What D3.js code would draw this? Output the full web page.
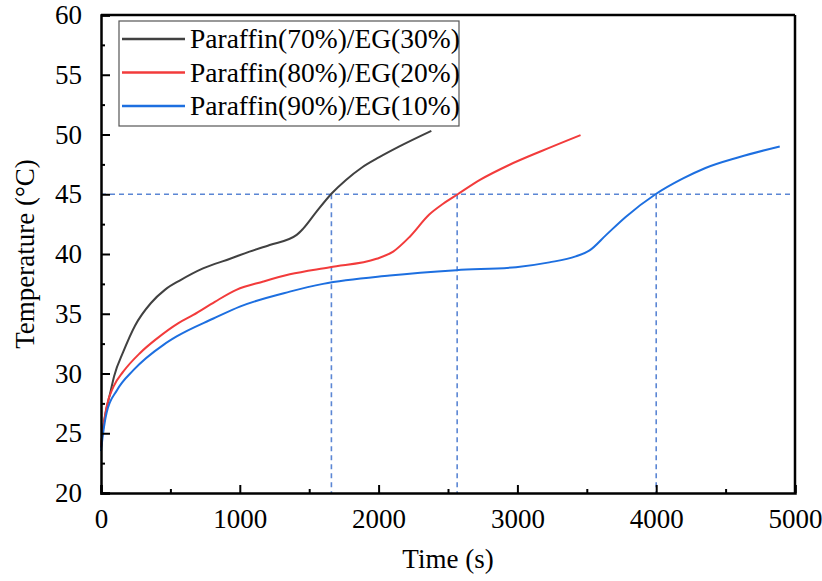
<!DOCTYPE html>
<html>
<head>
<meta charset="utf-8">
<script src="https://cdn.jsdelivr.net/npm/d3@7"></script>
<style>
  body { margin: 0; background: #fff; }
  svg text { font-family: "Liberation Serif", "Times New Roman", serif; fill: #000; }
</style>
</head>
<body>
<svg id="chart" width="822" height="581"></svg>
<script>
// data
var seriesNames = ["Paraffin(70%)/EG(30%)", "Paraffin(80%)/EG(20%)", "Paraffin(90%)/EG(10%)"];
var seriesColors = ["#414141", "#f23b3b", "#1d6fe0"];

var time70 = [0, 15, 35, 65, 95, 160, 245, 360, 460, 570, 735, 930, 1070, 1215, 1410, 1455, 1550, 1665, 1765, 1875, 2005, 2150, 2380];
var temp70 = [23.8, 25.4, 26.8, 28.3, 29.8, 31.8, 34.0, 35.9, 37.0, 37.8, 38.8, 39.6, 40.2, 40.75, 41.6, 42.1, 43.5, 45.1, 46.2, 47.2, 48.1, 49.0, 50.3];

var time80 = [0, 15, 40, 90, 160, 280, 400, 555, 665, 820, 975, 1170, 1360, 1650, 1985, 2105, 2225, 2365, 2465, 2570, 2730, 2940, 3170, 3455];
var temp80 = [23.9, 25.4, 27.2, 28.9, 30.15, 31.7, 32.9, 34.2, 34.9, 36.0, 37.0, 37.7, 38.3, 38.9, 39.6, 40.2, 41.45, 43.3, 44.2, 45.0, 46.2, 47.45, 48.6, 49.95];

var time90 = [0, 15, 40, 115, 235, 450, 545, 810, 1000, 1360, 1600, 2080, 2560, 2990, 3230, 3420, 3520, 3640, 3780, 3995, 4190, 4355, 4595, 4890];
var temp90 = [23.5, 25.0, 26.7, 28.6, 30.3, 32.4, 33.1, 34.6, 35.6, 36.85, 37.5, 38.2, 38.65, 38.9, 39.3, 39.8, 40.3, 41.6, 43.1, 45.0, 46.3, 47.2, 48.1, 49.0];

var refTemp = 45;
var refTimes = [1660, 2566, 4000];

var xTicks = [0, 1000, 2000, 3000, 4000, 5000];
var yTicks = [20, 25, 30, 35, 40, 45, 50, 55, 60];

var margin = {top: 15, right: 27, bottom: 88, left: 101},
    width = 822 - margin.left - margin.right,
    height = 581 - margin.top - margin.bottom;

var svg = d3.select("#chart");
var g = svg.append("g").attr("transform", "translate(" + margin.left + "," + margin.top + ")");

var x = d3.scaleLinear().domain([0, 5000]).range([0, width]);
var y = d3.scaleLinear().domain([20, 60]).range([height, 0]);

// reference dashed lines
var dashColor = "#5b86d4";
g.append("line")
  .attr("x1", 0).attr("x2", width)
  .attr("y1", y(refTemp)).attr("y2", y(refTemp))
  .attr("stroke", dashColor).attr("stroke-width", 1.6).attr("stroke-dasharray", "5,4");
g.selectAll("line.vref")
  .data(refTimes)
  .enter().append("line")
  .attr("class", "vref")
  .attr("x1", function (d) { return x(d); }).attr("x2", function (d) { return x(d); })
  .attr("y1", y(refTemp)).attr("y2", height)
  .attr("stroke", dashColor).attr("stroke-width", 1.6).attr("stroke-dasharray", "5,4");

// curves
var series = [
  {t: time70, v: temp70},
  {t: time80, v: temp80},
  {t: time90, v: temp90}
];
var line = d3.line()
  .x(function (d) { return x(d[0]); })
  .y(function (d) { return y(d[1]); })
  .curve(d3.curveMonotoneX);

series.forEach(function (s, i) {
  g.append("path")
    .datum(d3.zip(s.t, s.v))
    .attr("d", line)
    .attr("fill", "none")
    .attr("stroke", seriesColors[i])
    .attr("stroke-width", 2);
});

// axes (ticks point inward)
g.append("g").attr("transform", "translate(0," + height + ")")
  .call(d3.axisBottom(x).tickValues(xTicks).tickSize(-8).tickPadding(16).tickFormat(d3.format("d")));
g.append("g").attr("transform", "translate(0," + height + ")")
  .call(d3.axisBottom(x).tickValues([500, 1500, 2500, 3500, 4500]).tickSize(-4).tickFormat(""))
  .call(function (a) { a.select(".domain").remove(); });

g.append("g")
  .call(d3.axisLeft(y).tickValues(yTicks).tickSize(-9).tickPadding(19));
g.append("g")
  .call(d3.axisLeft(y).tickValues([22.5, 27.5, 32.5, 37.5, 42.5, 47.5, 52.5, 57.5]).tickSize(-4).tickFormat(""))
  .call(function (a) { a.select(".domain").remove(); });

g.selectAll("g").attr("font-family", null);
g.selectAll(".tick line").attr("stroke", "#000").attr("stroke-width", 2);
g.selectAll(".domain").attr("stroke", "#000").attr("stroke-width", 2.5);
g.selectAll(".tick text")
  .style("font-family", "'Liberation Serif', 'Times New Roman', serif")
  .style("font-size", "27px");

// top and right frame
g.append("line").attr("x1", 0).attr("x2", width).attr("y1", 0).attr("y2", 0)
  .attr("stroke", "#000").attr("stroke-width", 2.5);
g.append("line").attr("x1", width).attr("x2", width).attr("y1", 0).attr("y2", height)
  .attr("stroke", "#000").attr("stroke-width", 2.5);

// axis titles
svg.append("text")
  .attr("x", margin.left + width / 2).attr("y", 568)
  .attr("text-anchor", "middle").attr("font-size", "27px")
  .text("Time (s)");
svg.append("text")
  .attr("transform", "translate(34," + (margin.top + height / 2) + ") rotate(-90)")
  .attr("text-anchor", "middle").attr("font-size", "27px")
  .text("Temperature (°C)");

// legend
var legend = svg.append("g").attr("transform", "translate(119,21)");
legend.append("rect")
  .attr("x", 0).attr("y", 0).attr("width", 340).attr("height", 105)
  .attr("fill", "#fff").attr("stroke", "#555").attr("stroke-width", 1.2);
var items = legend.selectAll("g.item")
  .data(seriesNames)
  .enter().append("g")
  .attr("class", "item")
  .attr("transform", function (d, i) { return "translate(0," + (18 + i * 33.5) + ")"; });
items.append("line")
  .attr("x1", 3).attr("x2", 66).attr("y1", 0).attr("y2", 0)
  .attr("stroke", function (d, i) { return seriesColors[i]; })
  .attr("stroke-width", 2.5);
items.append("text")
  .attr("x", 71).attr("y", 9)
  .attr("font-size", "27.5px")
  .text(function (d) { return d; });
</script>
</body>
</html>
